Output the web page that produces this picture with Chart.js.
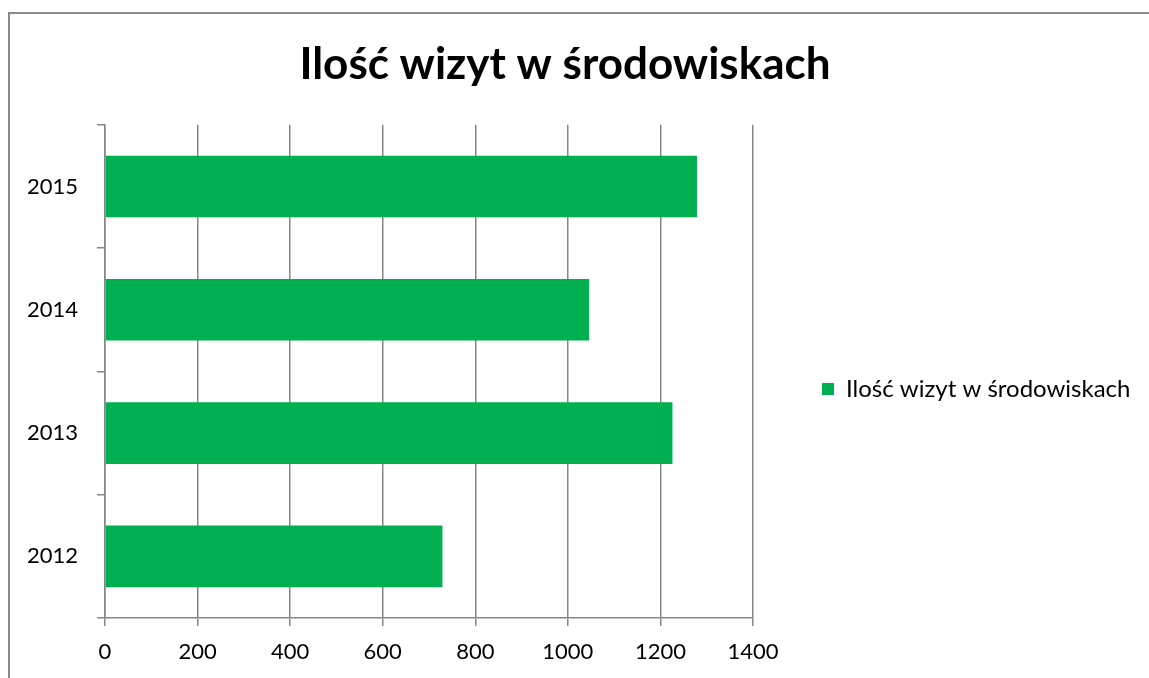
<!DOCTYPE html>
<html>
<head>
<meta charset="utf-8">
<script src="https://cdn.jsdelivr.net/npm/chart.js@4.4.1/dist/chart.umd.min.js"></script>
<style>
  html, body { margin: 0; padding: 0; background: #fff; overflow: hidden; }
  #frame {
    position: absolute; left: 8px; top: 12px;
    width: 1300px; height: 800px;
    border-left: 2px solid #8a8a8a; border-top: 2px solid #8a8a8a;
  }
  #wrap { position: absolute; left: 0; top: 0; width: 1126px; height: 750px; }
</style>
</head>
<body>
<div id="frame"><div id="wrap"><canvas id="bar-chart"></canvas></div></div>
<script>
// values
var years = ["2012", "2013", "2014", "2015"];
var visits = [729, 1226, 1046, 1279];
var xTicks = [0, 200, 400, 600, 800, 1000, 1200, 1400];
var seriesName = "Ilość wizyt w środowiskach";

var green = "#00b050";
var gray = "#868686";

Chart.defaults.font.family = "Lato";
Chart.defaults.color = "#000";

new Chart(document.getElementById("bar-chart"), {
    type: 'bar',
    data: {
      labels: years,
      datasets: [{
        label: seriesName,
        backgroundColor: green,
        borderWidth: 0,
        data: visits,
        categoryPercentage: 1.0,
        barPercentage: 0.5
      }]
    },
    options: {
      indexAxis: 'y',
      responsive: true,
      maintainAspectRatio: false,
      animation: false,
      // negative left padding shifts the centred title a bit left, like in the original
      layout: { padding: { left: -16, top: 0, bottom: 0, right: 0 } },
      plugins: {
        title: {
          display: true,
          text: seriesName,
          font: { size: 44, weight: 'bold', family: 'Lato' },
          color: '#000',
          padding: { top: 24, bottom: 34 }
        },
        legend: {
          position: 'right',
          maxWidth: 383,
          labels: {
            boxWidth: 12,
            boxHeight: 12,
            padding: 69,
            font: { size: 24 },
            color: '#000'
          }
        },
        tooltip: { enabled: false }
      },
      scales: {
        x: {
          min: 0,
          max: 1400,
          afterBuildTicks: function(scale) {
            scale.ticks = xTicks.map(function(v) { return { value: v }; });
          },
          afterFit: function(scale) { scale.height = 146; },
          grid: { color: gray, lineWidth: 1.5, tickLength: 8 },
          border: { color: gray, width: 1.5 },
          ticks: {
            font: { size: 22 }, padding: 13, color: '#000',
            callback: function(v) { return String(v); }
          }
        },
        y: {
          reverse: true,
          afterFit: function(scale) { scale.width = 111; },
          grid: { drawOnChartArea: false, color: gray, lineWidth: 1.5, tickLength: 8 },
          border: { color: gray, width: 1.5 },
          ticks: { font: { size: 22 }, padding: 19, color: '#000' }
        }
      }
    }
});
</script>
</body>
</html>
